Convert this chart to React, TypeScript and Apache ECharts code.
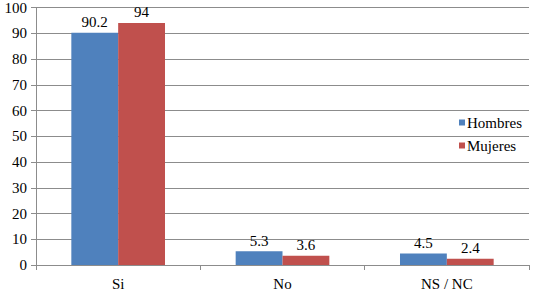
import React, { useEffect, useRef } from "react";
import * as echarts from "echarts";

const categories = ["Si", "No", "NS / NC"];
const hombres = [90.2, 5.3, 4.5];
const mujeres = [94, 3.6, 2.4];
const yTicks = { min: 0, max: 100, interval: 10 };

export default function App() {
  const ref = useRef<HTMLDivElement>(null);
  useEffect(() => {
    if (!ref.current) return;
    const chart = echarts.init(ref.current, undefined, { renderer: "svg" });
    const font = "Liberation Serif";
    const fs = 15;
    chart.setOption({
      animation: false,
      backgroundColor: "#ffffff",
      textStyle: { fontFamily: font },
      grid: { left: 36, right: 14, top: 7, bottom: 29 },
      legend: {
        orient: "vertical",
        left: 454,
        top: 110,
        itemWidth: 6,
        itemHeight: 6,
        itemGap: 8,
        icon: "rect",
        textStyle: { fontFamily: font, fontSize: fs, color: "#000", padding: [0, 0, 0, -3] },
        data: ["Hombres", "Mujeres"],
      },
      xAxis: {
        type: "category",
        data: categories,
        axisLine: { lineStyle: { color: "#8c8c8c", width: 1 } },
        axisTick: { show: true, length: 5, lineStyle: { color: "#8c8c8c" } },
        axisLabel: { fontFamily: font, fontSize: fs, color: "#000", margin: 11 },
      },
      yAxis: {
        type: "value",
        min: yTicks.min,
        max: yTicks.max,
        interval: yTicks.interval,
        axisLine: { show: true, lineStyle: { color: "#8c8c8c", width: 1 } },
        axisTick: { show: true, length: 5, lineStyle: { color: "#8c8c8c" } },
        axisLabel: { fontFamily: font, fontSize: fs, color: "#000", margin: 9 },
        splitLine: { lineStyle: { color: "#8c8c8c", width: 1 } },
      },
      series: [
        {
          name: "Hombres",
          type: "bar",
          data: hombres,
          barGap: "0%",
          barCategoryGap: "43%",
          itemStyle: { color: "#4f81bd" },
          label: { show: true, position: "top", fontFamily: font, fontSize: fs, color: "#000", distance: 3 },
        },
        {
          name: "Mujeres",
          type: "bar",
          data: mujeres,
          barGap: "0%",
          barCategoryGap: "43%",
          itemStyle: { color: "#c0504d" },
          label: { show: true, position: "top", fontFamily: font, fontSize: fs, color: "#000", distance: 3 },
        },
      ],
    });
    return () => chart.dispose();
  }, []);
  return (
    <div
      ref={ref}
      style={{ position: "fixed", left: 0, top: 0, width: 543, height: 294, background: "#fff" }}
    />
  );
}
